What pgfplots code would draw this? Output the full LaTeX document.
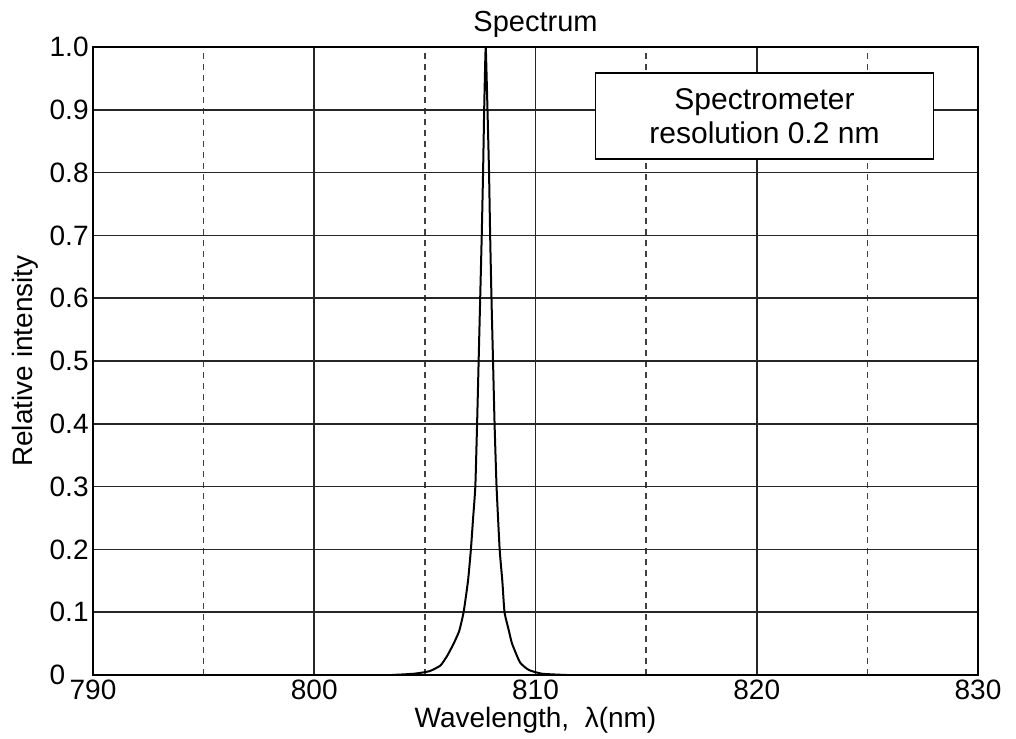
\documentclass[border=0pt]{standalone}
\usepackage{fontspec}
\setmainfont{Liberation Sans}
\usepackage{pgfplots}
\pgfplotsset{compat=1.18}
\begin{document}
\begin{tikzpicture}
\begin{axis}[name=a, scale only axis, width=442.5pt, height=314pt,
  xmin=790, xmax=830, ymin=0, ymax=1,
  xtick={790,800,810,820,830}, xticklabels={790,800,810,820,830},
  minor xtick={795,805,815,825},
  ytick={0,0.1,0.2,0.3,0.4,0.5,0.6,0.7,0.8,0.9,1.0},
  yticklabels={0\phantom{.0},0.1,0.2,0.3,0.4,0.5,0.6,0.7,0.8,0.9,1.0},
  grid=both,
  major grid style={black!85, line width=0.8pt},
  minor grid style={black!75, line width=0.65pt, dash pattern=on 3pt off 2.5pt},
  tick style={draw=none},
  axis line style={line width=1.3pt},
  tick label style={font=\fontsize{14}{16}\selectfont},
  yticklabel style={inner xsep=0pt, xshift=-2pt},
  xticklabel style={inner ysep=0pt, anchor=north, yshift=-2.5pt},
  title={Spectrum},
  title style={font=\fontsize{14.5}{16}\selectfont, at={(0.5,1)}, anchor=south, inner sep=0pt, yshift=-1.5pt},
  xlabel={Wavelength,\ \ λ(nm)},
  ylabel={Relative intensity},
  label style={font=\fontsize{14}{16}\selectfont},
  xlabel style={at={(axis description cs:0.5,0)}, anchor=north, inner sep=0pt, yshift=-16pt},
  ylabel style={at={(axis description cs:-0.0768,0.5)}, anchor=center, inner sep=0pt},
]
\addplot[black, line width=1pt, smooth, tension=0.3] coordinates {
(803.5,0) (804.5,0.002) (805.2,0.006) (805.7,0.015) (806.0,0.03) (806.3,0.05)
(806.55,0.07) (806.75,0.1) (806.95,0.15) (807.08,0.2) (807.18,0.25) (807.28,0.3)
(807.36,0.4) (807.43,0.5) (807.5,0.6) (807.57,0.7) (807.63,0.8) (807.68,0.9)
(807.73,0.98) (807.75,1.0) (807.77,0.98) (807.83,0.9) (807.9,0.8) (807.95,0.7)
(808.01,0.6) (808.08,0.5) (808.15,0.4) (808.24,0.3) (808.38,0.2) (808.5,0.15)
(808.6,0.1) (808.8,0.07) (808.94,0.05) (809.3,0.02) (809.7,0.008) (810.3,0.002) (811.4,0)
};
\node[draw, fill=white, line width=0.8pt, minimum width=169pt, minimum height=43pt,
  align=center, font=\fontsize{15}{17}\selectfont] at (axis cs:820.35,0.8905)
  {Spectrometer\\resolution 0.2 nm};
\end{axis}
\path (a.south west) ++(-46.5pt,-31.5pt) rectangle ([shift={(19pt,23.5pt)}]a.north east);
\end{tikzpicture}
\end{document}
